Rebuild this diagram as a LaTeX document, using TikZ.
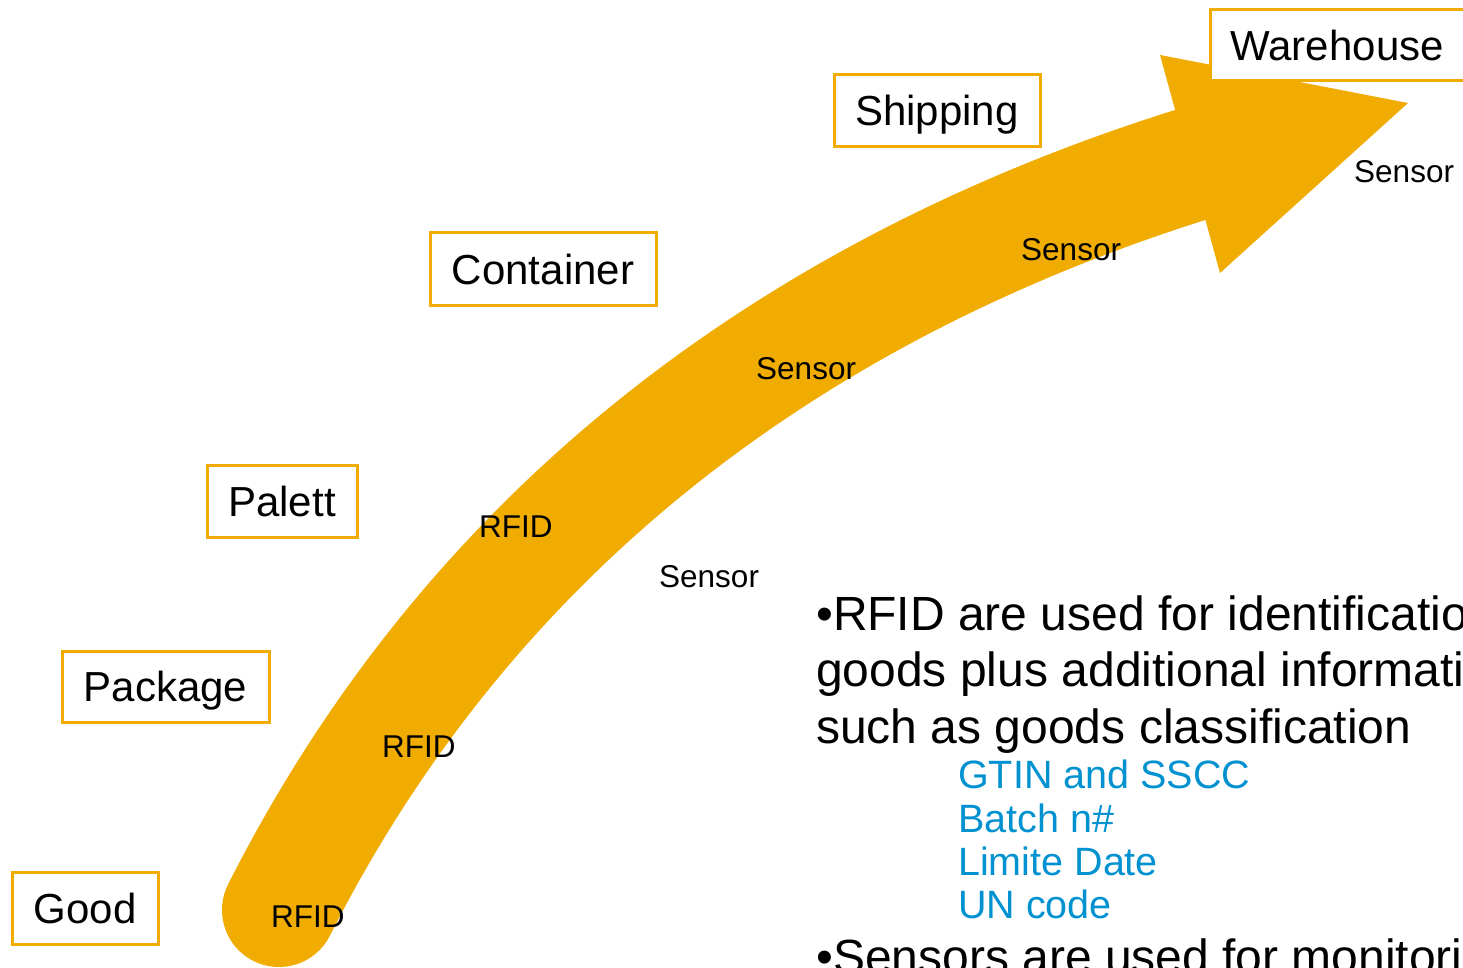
\documentclass[tikz,border=0pt]{standalone}
\usepackage{fontspec}
\setmainfont{Liberation Sans}
\definecolor{arroworange}{RGB}{240,172,0}
\definecolor{itemblue}{RGB}{0,146,208}
\begin{document}
\begin{tikzpicture}[x=1pt,y=-1pt,
  stagebox/.style={draw=arroworange, line width=3pt, fill=white, inner sep=0pt,
    font=\fontsize{42}{48}\selectfont, text height=30pt, text depth=0pt},
  tag/.style={inner sep=0pt, anchor=base west, font=\fontsize{31.5}{36}\selectfont},
  bigtext/.style={inner sep=0pt, anchor=base west, font=\fontsize{48}{56}\selectfont},
  subtext/.style={inner sep=0pt, anchor=base west, text=itemblue, font=\fontsize{39.5}{44}\selectfont},
  band/.style={draw=arroworange, line width=114pt, line cap=round}
]
\useasboundingbox (0,0) rectangle (1463,968);
\fill[white] (0,0) rectangle (1463,968);
\clip (0,0) rectangle (1463,968);

% curved arrow
\coordinate (tail) at (279,910);
\coordinate (neck) at (1190,165);
\coordinate (headTop) at (1160,55);
\coordinate (headTip) at (1408,103);
\coordinate (headBot) at (1220,273);
\draw[band] (tail) .. controls (486,501) and (829,279) .. (neck);
\fill[arroworange] (headTop) -- (headTip) -- (headBot) -- cycle;

% stage boxes
\node[stagebox, minimum width=146pt, minimum height=72pt] (good) at (85,908) {Good};
\node[stagebox, minimum width=207pt, minimum height=71pt] (package) at (165.5,686.5) {Package};
\node[stagebox, minimum width=150pt, minimum height=72pt] (palett) at (282,501) {Palett};
\node[stagebox, minimum width=226pt, minimum height=72pt] (container) at (543,269) {Container};
\node[stagebox, minimum width=206pt, minimum height=72pt] (shipping) at (937,111) {Shipping};
\node[stagebox, anchor=west, minimum height=71pt, inner xsep=20pt, text width=240pt, align=left] (warehouse) at (1209,45.5) {Warehouse};

% tags on the arrow
\node[tag] (rfid1) at (271,927) {RFID};
\node[tag] (rfid2) at (382,757) {RFID};
\node[tag] (rfid3) at (479,537) {RFID};
\node[tag] (sensor1) at (659,587) {Sensor};
\node[tag] (sensor2) at (756,379) {Sensor};
\node[tag] (sensor3) at (1021,260) {Sensor};
\node[tag] (sensor4) at (1354,183) {Sensor};

% explanatory text
\node[bigtext] (line1) at (816,630) {•RFID are used for identification};
\node[bigtext] (line2) at (816,686) {goods plus additional information};
\node[bigtext] (line3) at (816,743) {such as goods classification};
\node[subtext] (item1) at (958,788) {GTIN and SSCC};
\node[subtext] (item2) at (958,832) {Batch n\#};
\node[subtext] (item3) at (958,875) {Limite Date};
\node[subtext] (item4) at (958,918) {UN code};
\node[bigtext] (line4) at (816,973) {•Sensors are used for monitoring};
\end{tikzpicture}
\end{document}
